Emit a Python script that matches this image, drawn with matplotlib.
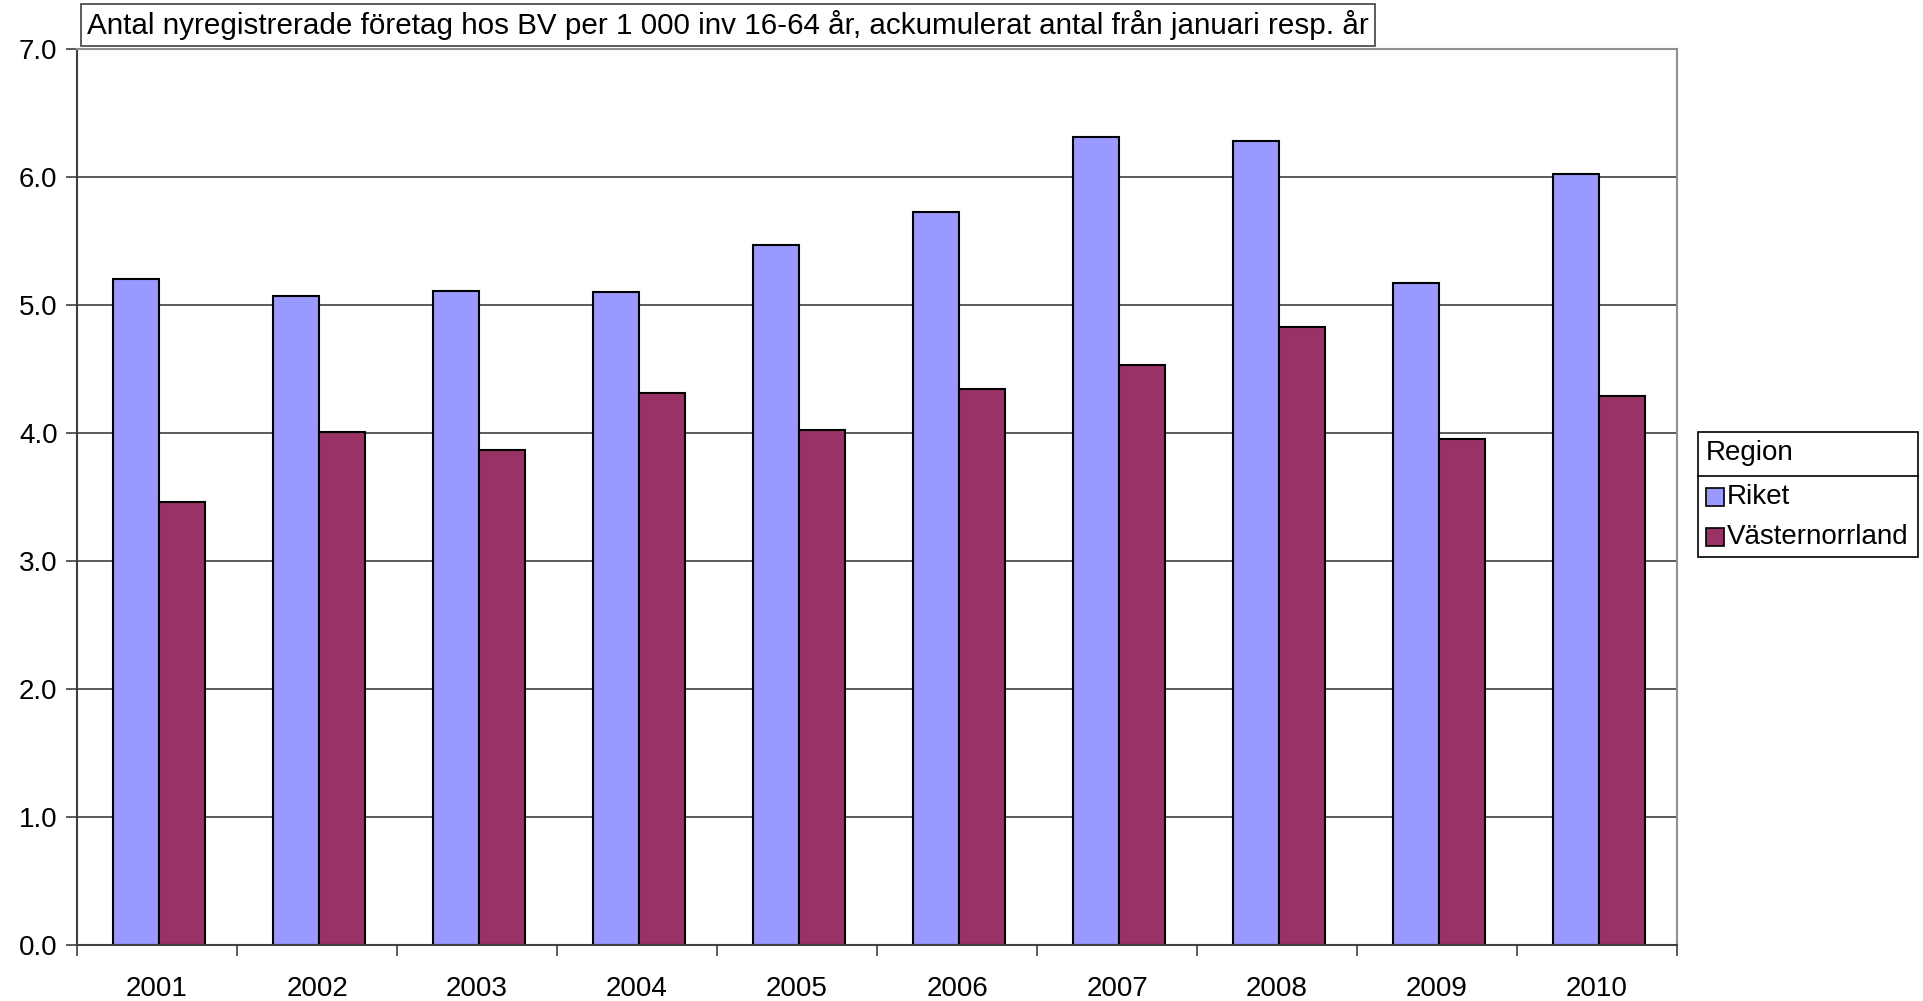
import matplotlib
matplotlib.use("Agg")
import matplotlib.pyplot as plt
import matplotlib.patches as mpatches
from matplotlib.lines import Line2D
import numpy as np

plt.rcParams['font.family'] = ['Liberation Sans', 'DejaVu Sans']

years = ["2001", "2002", "2003", "2004", "2005", "2006", "2007", "2008", "2009", "2010"]
riket = [5.20, 5.07, 5.11, 5.10, 5.47, 5.73, 6.31, 6.28, 5.17, 6.02]
vasternorrland = [3.46, 4.01, 3.87, 4.31, 4.02, 4.34, 4.53, 4.83, 3.95, 4.29]
series_names = ["Riket", "Västernorrland"]
colors = ["#9999FF", "#993366"]
title = "Antal nyregistrerade företag hos BV per 1 000 inv 16-64 år, ackumulerat antal från januari resp. år"
legend_title = "Region"

W, H = 1924, 1001
fig = plt.figure(figsize=(W / 100, H / 100), dpi=100)
ax = fig.add_axes([77 / W, 1 - 945 / H, 1600 / W, 896 / H])

x = np.arange(len(years))
bw = 0.29
for i, (vals, name, c) in enumerate(zip([riket, vasternorrland], series_names, colors)):
    offs = (i - 0.5) * bw + 0.012
    ax.bar(x + offs, vals, width=bw, color=c, edgecolor="black", linewidth=1.5,
           label=name, zorder=3)

ax.set_xlim(-0.5, len(years) - 0.5)
ax.set_ylim(0, 7)
ax.set_yticks(np.arange(0, 7.01, 1))
ax.set_yticklabels([f"{v:.1f}" for v in np.arange(0, 7.01, 1)], fontsize=20)
ax.set_xticks(x)
ax.set_xticklabels(years, fontsize=20)
ax.set_xticks(np.arange(-0.5, len(years)), minor=True)
ax.tick_params(axis='x', which='major', length=0, pad=22)
ax.tick_params(axis='x', which='minor', length=8, width=1.2, color="#404040")
ax.tick_params(axis='y', length=8, width=1.2, color="#404040", pad=6)
ax.yaxis.grid(True, color="#404040", linewidth=1.2, zorder=0)
for s in ["left", "bottom"]:
    ax.spines[s].set_color("#404040")
    ax.spines[s].set_linewidth(1.5)
for s in ["top", "right"]:
    ax.spines[s].set_color("#909090")
    ax.spines[s].set_linewidth(1.5)
ax.spines["bottom"].set_zorder(4)

# Title box
fig.text(87 / W, 1 - 25 / H, title, fontsize=21.3, ha="left", va="center",
         bbox=dict(boxstyle="square,pad=0.2", facecolor="white", edgecolor="#404040", linewidth=1.2))

# Legend
lx0, ly0, lx1, ly1 = 1698, 432, 1918, 557
fig.patches.append(mpatches.Rectangle((lx0 / W, 1 - ly1 / H), (lx1 - lx0) / W, (ly1 - ly0) / H,
                                      transform=fig.transFigure, facecolor="white",
                                      edgecolor="black", linewidth=1.2))
fig.text((lx0 + 8) / W, 1 - 453 / H, legend_title, fontsize=20, ha="left", va="center")
fig.lines.append(Line2D([lx0 / W, lx1 / W], [1 - 476 / H, 1 - 476 / H], transform=fig.transFigure,
                        color="black", linewidth=1.2))
for j, (name, c) in enumerate(zip(series_names, colors)):
    yc = 497 + j * 40
    fig.patches.append(mpatches.Rectangle(((lx0 + 8) / W, 1 - (yc + 9) / H), 18 / W, 18 / H,
                                          transform=fig.transFigure, facecolor=c,
                                          edgecolor="black", linewidth=1.2))
    fig.text((lx0 + 29) / W, 1 - yc / H, name, fontsize=20, ha="left", va="center")

fig.savefig("out.png", dpi=100)
